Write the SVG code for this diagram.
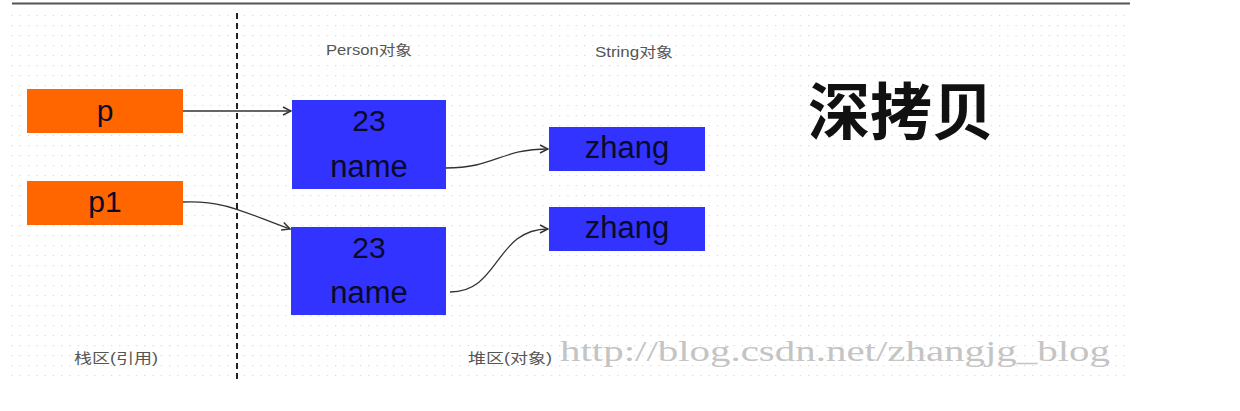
<svg xmlns="http://www.w3.org/2000/svg" width="1240" height="411" viewBox="0 0 1240 411">
<defs>
<pattern id="grid" x="3" y="5" width="8.3" height="10" patternUnits="userSpaceOnUse">
<rect x="0" y="0" width="1.2" height="1.2" fill="#d8d8d8"/>
</pattern>
<marker id="arr" viewBox="0 0 10 10" refX="9" refY="5" markerWidth="10" markerHeight="10" markerUnits="userSpaceOnUse" orient="auto">
<path d="M1,1 L9,5 L1,9" fill="none" stroke="#333" stroke-width="1.5"/>
</marker>
</defs>
<style>
.ref{fill:#ff6600}
.obj{fill:#3333ff}
.lbl{font-family:"Liberation Sans",Arial,sans-serif;fill:#0a0a2a;text-anchor:middle}
.cap{font-family:"Liberation Sans","Noto Sans CJK SC",sans-serif;fill:#555;font-size:14px;text-anchor:middle}
.con{fill:none;stroke:#333;stroke-width:1.3}
</style>
<rect width="1240" height="411" fill="#fff"/>
<rect x="10" y="12" width="1122" height="366" fill="url(#grid)"/>
<line x1="12" y1="3.5" x2="1130" y2="3.5" stroke="#555" stroke-width="2"/>
<line x1="237" y1="13" x2="237" y2="380" stroke="#222" stroke-width="2" stroke-dasharray="6,4"/>
<text class="cap" x="369" y="55" textLength="86" lengthAdjust="spacingAndGlyphs">Person对象</text>
<text class="cap" x="634" y="57" textLength="78" lengthAdjust="spacingAndGlyphs">String对象</text>
<text x="901" y="135" font-family="'Noto Sans CJK SC',sans-serif" font-weight="bold" font-size="62" fill="#111" text-anchor="middle">深拷贝</text>
<text class="cap" x="116" y="363" fill="#444" textLength="84" lengthAdjust="spacingAndGlyphs">栈区(引用)</text>
<text class="cap" x="510" y="363" fill="#444" textLength="84" lengthAdjust="spacingAndGlyphs">堆区(对象)</text>
<text x="560" y="361" font-family="'Liberation Serif','DejaVu Serif',serif" font-size="30" fill="#c4c4c4" textLength="550" lengthAdjust="spacingAndGlyphs">http://blog.csdn.net/zhangjg_blog</text>
<g id="node-p">
<rect class="ref" x="27" y="89" width="156" height="44"/>
<text class="lbl" x="105" y="121" font-size="30">p</text>
</g>
<g id="node-p1">
<rect class="ref" x="27" y="181" width="156" height="44"/>
<text class="lbl" x="105" y="212" font-size="30">p1</text>
</g>
<g id="node-person1">
<rect class="obj" x="292" y="100" width="154" height="89"/>
<text class="lbl" x="369" y="131" font-size="30">23</text>
<text class="lbl" x="369" y="177" font-size="31">name</text>
</g>
<g id="node-person2">
<rect class="obj" x="291" y="227" width="155" height="88"/>
<text class="lbl" x="369" y="258" font-size="30">23</text>
<text class="lbl" x="369" y="303" font-size="31">name</text>
</g>
<g id="node-zhang1">
<rect class="obj" x="549" y="127" width="156" height="44"/>
<text class="lbl" x="627" y="158" font-size="31">zhang</text>
</g>
<g id="node-zhang2">
<rect class="obj" x="549" y="207" width="156" height="44"/>
<text class="lbl" x="627" y="238" font-size="31">zhang</text>
</g>
<g id="connectors">
<path class="con" d="M183,111 L291,111" marker-end="url(#arr)"/>
<path class="con" d="M183,202 C225,200 245,213 290,229" marker-end="url(#arr)"/>
<path class="con" d="M446,168 C495,168 500,149 548,149" marker-end="url(#arr)"/>
<path class="con" d="M450,292 C500,292 495,229 548,229" marker-end="url(#arr)"/>
</g>
</svg>
